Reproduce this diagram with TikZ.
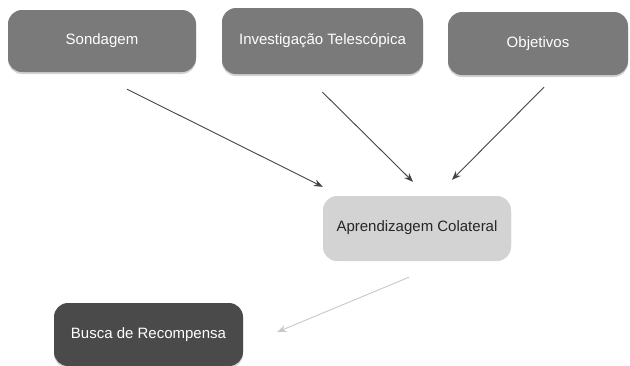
\documentclass[tikz,border=0pt]{standalone}
\usepackage{fontspec}
\setmainfont{Liberation Sans}
\usetikzlibrary{arrows.meta,shadows}
\definecolor{midbox}{HTML}{7A7A7A}
\definecolor{lightbox}{HTML}{D3D3D3}
\definecolor{darkbox}{HTML}{4A4A4A}
\definecolor{arrowdark}{HTML}{444444}
\definecolor{arrowlight}{HTML}{C8C8C8}
\tikzset{
  box/.style={rectangle, rounded corners=14pt, inner sep=0pt, font=\fontsize{15}{18}\selectfont,
    drop shadow={opacity=0.35, shadow xshift=0pt, shadow yshift=-2pt}},
  midstyle/.style={box, fill=midbox, text=white},
  lightstyle/.style={box, fill=lightbox, text=black!85},
  darkstyle/.style={box, fill=darkbox, text=white},
  conn/.style={draw=arrowdark, line width=0.9pt, -{Stealth[length=9pt,width=7pt]}},
  connlight/.style={draw=arrowlight, line width=0.9pt, -{Stealth[length=9pt,width=7pt]}}
}
\begin{document}
\begin{tikzpicture}[x=1pt,y=-1pt]
\useasboundingbox (0,0) rectangle (630,365);
\fill[white] (0,0) rectangle (630,365);
\begin{scope}
\clip (0,0) rectangle (630,365);
\node[midstyle, minimum width=188pt, minimum height=62pt] (s) at (102,41) {Sondagem};
\node[midstyle, minimum width=201pt, minimum height=66pt] (i) at (322.5,41) {Investigação Telescópica};
\node[midstyle, minimum width=180pt, minimum height=63pt] (o) at (538,43.5) {Objetivos};
\node[lightstyle, minimum width=188pt, minimum height=63pt] (a) at (417,227.5) {Aprendizagem Colateral};
\node[darkstyle, minimum width=189pt, minimum height=63pt] (b) at (148.5,334.5) {Busca de Recompensa};
\end{scope}
\coordinate (s1) at ([xshift=25pt,yshift=-17pt]s.south);
\coordinate (a1) at ([yshift=9pt]a.north west);
\coordinate (i1) at ([yshift=-18pt]i.south);
\coordinate (a2) at ([xshift=-4pt,yshift=14pt]a.north);
\coordinate (o1) at ([xshift=6pt,yshift=-12pt]o.south);
\coordinate (a3) at ([xshift=35pt,yshift=16pt]a.north);
\coordinate (a4) at ([xshift=-8pt,yshift=-18pt]a.south);
\coordinate (b1) at ([xshift=34pt,yshift=2.5pt]b.east);
\draw[conn] (s1) -- (a1);
\draw[conn] (i1) -- (a2);
\draw[conn] (o1) -- (a3);
\draw[connlight] (a4) -- (b1);
\end{tikzpicture}
\end{document}
